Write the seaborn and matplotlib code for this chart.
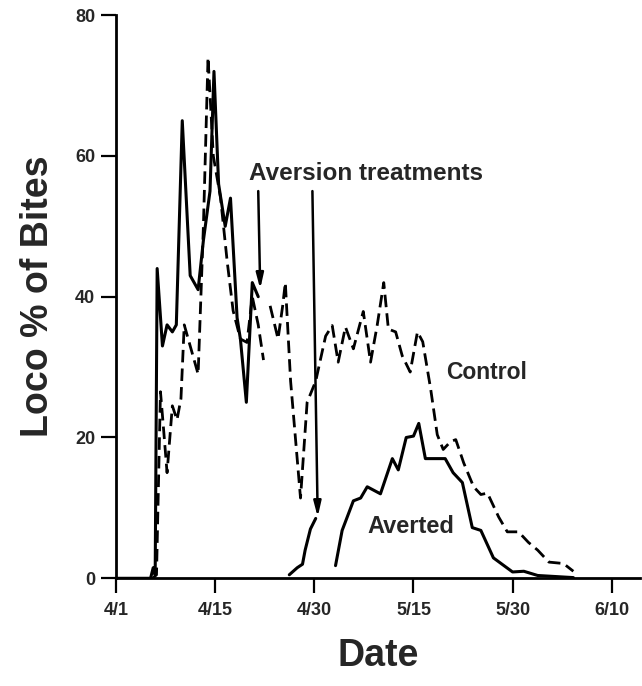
import pandas as pd
import matplotlib
matplotlib.use('Agg')
import matplotlib.pyplot as plt
import seaborn as sns

# days since 4/1
averted_day = [0, 5.2, 5.6, 5.9, 6.2, 7.0, 7.7, 8.5, 9.1, 10.0, 11.2, 12.4, 13.2, 14.2, 14.8,
               15.5, 16.5, 17.3, 18.3, 18.8, 19.7, 20.6, 21.5,
               26.2, 27.4, 28.2, 28.6, 29.4, 30.2,
               33.2, 34.2, 35.9, 37.0, 38.0, 40.0, 41.8, 42.7, 43.9, 45.0, 45.8, 46.8, 49.8,
               51.0, 52.4, 53.9, 55.2, 57.1, 60.0, 61.7, 63.8, 69.2]
averted_val = [0, 0, 1.5, 0.5, 44, 33, 36, 35, 36, 65, 43, 41, 48, 55, 72,
               56, 50, 54, 37, 34, 25, 42, 40,
               0.5, 1.5, 2, 4, 7, 8.5,
               1.8, 6.8, 11, 11.4, 13, 12, 17, 15.4, 20, 20.2, 22, 17, 17,
               15, 13.6, 7.2, 6.8, 2.9, 0.9, 1, 0.4, 0.1]
averted_seg = [1] * 23 + [2] * 6 + [3] * 22

control_day = [5.5, 6.1, 6.7, 7.1, 7.7, 8.5, 9.2, 9.8, 10.3, 11.2, 12.4, 13.2, 13.9, 14.7,
               15.8, 16.8, 17.7, 18.8, 19.8, 20.6, 21.5, 22.3,
               23.3, 24.5, 25.2, 25.6, 26.4, 27.9, 28.9, 30.2, 30.9, 31.7, 32.7, 33.6, 34.7,
               35.9, 37.4, 38.5, 39.5, 40.5, 41.2, 42.3, 43.3, 44.5, 45.6, 46.4, 47.6, 48.6,
               49.5, 50.6, 51.4, 52.6, 54.1, 55.2, 56.2, 57.9, 59.2, 60.9, 62.4, 63.8, 65.5,
               67.7, 69.2]
control_val = [0, 0.5, 26.5, 22, 15, 24.5, 22.5, 25.5, 36, 33, 29, 50, 74, 60,
               54, 45, 38, 34, 33.5, 40, 36, 31,
               38.7, 34, 38.7, 42, 28, 11.4, 25, 28, 31, 34.4, 35.9, 30.7, 35.7,
               32.6, 37.9, 30.7, 35.9, 42, 35.4, 35, 31.6, 29.3, 35, 33.6, 26.9, 20.4,
               18.3, 19.4, 19.7, 16.4, 13, 11.9, 12.1, 8.7, 6.6, 6.6, 5.1, 4, 2.3,
               2.1, 1]
control_seg = [1] * 22 + [2] * 41

tick_days = [0, 15, 30, 45, 60, 75]
tick_labels = ['4/1', '4/15', '4/30', '5/15', '5/30', '6/10']

averted = pd.DataFrame({'day': averted_day, 'val': averted_val, 'seg': averted_seg})
control = pd.DataFrame({'day': control_day, 'val': control_val, 'seg': control_seg})

sns.set_style('ticks')
plt.rcParams['font.family'] = ['Liberation Sans', 'DejaVu Sans']
plt.rcParams['font.weight'] = 'bold'

fig = plt.figure(figsize=(6.42, 6.86), dpi=100)
ax = fig.add_axes([0.181, 0.157, 0.816, 0.821])

sns.lineplot(data=control, x='day', y='val', units='seg', estimator=None, ax=ax,
             color='black', lw=2.0, ls=(0, (4.5, 2.2)))
sns.lineplot(data=averted, x='day', y='val', units='seg', estimator=None, ax=ax,
             color='black', lw=2.2)

ax.set_xlim(0, 79.3)
ax.set_ylim(0, 80)
ax.set_xticks(tick_days)
ax.set_xticklabels(tick_labels)
ax.set_yticks([0, 20, 40, 60, 80])
ax.tick_params(axis='both', length=11, width=1.6, labelsize=13, color='black')
ax.tick_params(axis='x', pad=6)
ax.tick_params(axis='y', pad=4)
for lab in ax.get_xticklabels() + ax.get_yticklabels():
    lab.set_fontweight('bold')
sns.despine(ax=ax)
for sp in ['left', 'bottom']:
    ax.spines[sp].set_linewidth(2.0)
    ax.spines[sp].set_color('black')

ax.set_xlabel('Date', fontsize=27, fontweight='bold', labelpad=14)
ax.set_ylabel('Loco % of Bites', fontsize=27, fontweight='bold', labelpad=14)

ax.text(37.8, 57.5, 'Aversion treatments', fontsize=17.5, fontweight='bold',
        ha='center', va='center')
ax.text(56.1, 29.3, 'Control', fontsize=16.5, fontweight='bold', ha='center', va='center')
ax.text(44.6, 7.3, 'Averted', fontsize=17, fontweight='bold', ha='center', va='center')

arrow = dict(arrowstyle='-|>,head_width=0.22,head_length=0.9', color='black', lw=1.8,
             shrinkA=0, shrinkB=0)
ax.annotate('', xy=(21.8, 41.1), xytext=(21.5, 55.0), arrowprops=arrow)
ax.annotate('', xy=(30.5, 8.7), xytext=(29.7, 55.0), arrowprops=arrow)

plt.savefig('out.png', dpi=100)
plt.close()
